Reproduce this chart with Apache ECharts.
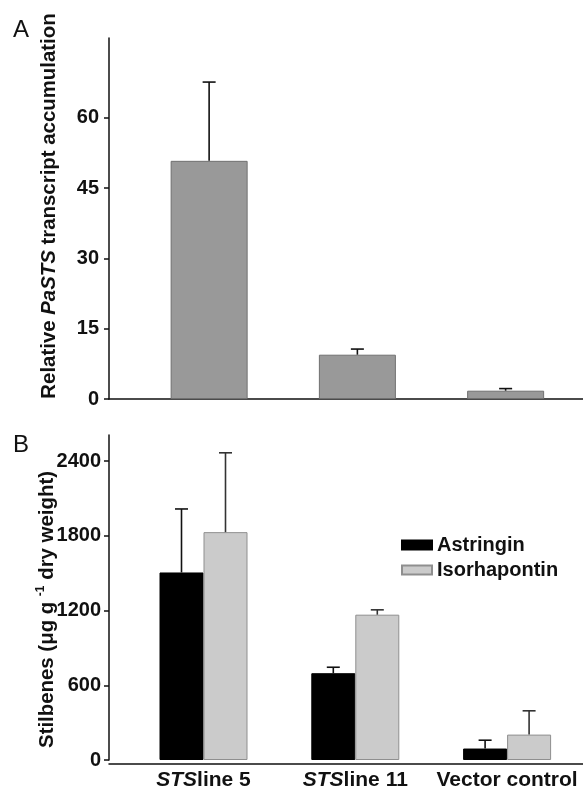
<!DOCTYPE html>
<html>
<head>
<meta charset="utf-8">
<script src="https://cdn.jsdelivr.net/npm/echarts@6/dist/echarts.min.js"></script>
<style>html,body{margin:0;padding:0;background:#fff;}#c{width:583px;height:791px;}</style>
</head>
<body>
<div id="c"></div>
<script>
// ---- data ----
const categories = ['STSline 5', 'STSline 11', 'Vector control'];
const transcript = [50.8, 9.45, 1.77];
const transcriptErr = [16.8, 1.2, 0.45];
const astringin = [1506, 697, 92];
const astringinErr = [510, 48, 67];
const isorhapontin = [1830, 1167, 204];
const isorhapontinErr = [637, 39, 191];
const topTicks = [0, 15, 30, 45, 60];
const bottomTicks = [0, 600, 1200, 1800, 2400];

const FONT = '"Liberation Sans", Arial, sans-serif';
const chart = echarts.init(document.getElementById('c'), null, {renderer: 'canvas'});

function errSeries(name, xIdx, yIdx, vals, errs, offset, color, z) {
  return {
    type: 'custom', name: name, xAxisIndex: xIdx, yAxisIndex: yIdx, z: z || 5,
    silent: true,
    data: vals.map((v, i) => [i, v, errs[i]]),
    renderItem: function (params, api) {
      const x = api.value(0), v = api.value(1), e = api.value(2);
      const base = api.coord([x, v]);
      const top = api.coord([x, v + e]);
      const cx = base[0] + offset;
      const st = {stroke: color, lineWidth: 1.6};
      return {type: 'group', children: [
        {type: 'line', shape: {x1: cx, y1: base[1], x2: cx, y2: top[1]}, style: st},
        {type: 'line', shape: {x1: cx - 6.5, y1: top[1], x2: cx + 6.5, y2: top[1]}, style: st}
      ]};
    }
  };
}

const labelStyle = {fontFamily: FONT, fontSize: 20, fontWeight: 'bold', color: '#111'};

const option = {
  animation: false,
  backgroundColor: '#fff',
  title: [
    {text: 'A', left: 8, top: 13, textStyle: {fontFamily: FONT, fontSize: 24, fontWeight: 'normal', color: '#111'}},
    {text: 'B', left: 8, top: 428, textStyle: {fontFamily: FONT, fontSize: 24, fontWeight: 'normal', color: '#111'}}
  ],
  legend: {
    orient: 'vertical', left: 401, top: 535, padding: 0,
    itemWidth: 30, itemHeight: 9, itemGap: 5,
    icon: 'rect',
    data: ['Astringin', 'Isorhapontin'],
    textStyle: {fontFamily: FONT, fontSize: 20, fontWeight: 'bold', color: '#111', lineHeight: 20}
  },
  grid: [
    {left: 135, right: 3.25, top: 38, bottom: 392},
    {left: 109, right: 0, top: 38, bottom: 392},
    {left: 127.6, right: -2.6, top: 435, bottom: 27.7},
    {left: 109, right: 0, top: 435, bottom: 27.7}
  ],
  xAxis: [
    {gridIndex: 0, type: 'category', data: categories, axisLine: {show: false}, axisTick: {show: false}, axisLabel: {show: false}},
    {gridIndex: 1, type: 'value', min: 0, max: 1, axisLine: {show: true, onZero: false, lineStyle: {color: '#111', width: 1.5}}, axisTick: {show: false}, axisLabel: {show: false}, splitLine: {show: false}},
    {gridIndex: 2, type: 'category', data: categories, axisLine: {show: false}, axisTick: {show: false},
      axisLabel: {interval: 0, hideOverlap: false, margin: 10, fontFamily: FONT, fontSize: 21, fontWeight: 'bold', color: '#111',
        formatter: function (v) {
          if (v.indexOf('STS') === 0) return '{i|STS}{b|' + v.slice(3) + '}';
          return '{b|' + v + '}';
        },
        rich: {i: {fontFamily: FONT, fontSize: 21, fontWeight: 'bold', fontStyle: 'italic', color: '#111'},
               b: {fontFamily: FONT, fontSize: 21, fontWeight: 'bold', color: '#111'}}}},
    {gridIndex: 3, type: 'value', min: 0, max: 1, axisLine: {show: true, onZero: false, lineStyle: {color: '#111', width: 1.5}}, axisTick: {show: false}, axisLabel: {show: false}, splitLine: {show: false}}
  ],
  yAxis: [
    {gridIndex: 0, type: 'value', min: 0, max: 77, offset: 26,
      axisLine: {show: true, lineStyle: {color: '#111', width: 1.5}},
      axisTick: {show: true, length: 5, customValues: topTicks, lineStyle: {color: '#111', width: 1.5}},
      axisLabel: Object.assign({margin: 10, customValues: topTicks, formatter: v => String(v)}, labelStyle),
      splitLine: {show: false},
      name: '{n|Relative }{i|PaSTS}{n| transcript accumulation}',
      nameLocation: 'middle', nameGap: 50, nameMoveOverlap: false,
      nameTextStyle: {padding: [0, 0, 0, 25], rich: {
        n: {fontFamily: FONT, fontSize: 20.4, fontWeight: 'bold', color: '#111'},
        i: {fontFamily: FONT, fontSize: 20.4, fontWeight: 'bold', fontStyle: 'italic', color: '#111'}}}
    },
    {gridIndex: 1, type: 'value', min: 0, max: 1, show: false},
    {gridIndex: 2, type: 'value', min: 0, max: 2610, offset: 18.6,
      axisLine: {show: true, lineStyle: {color: '#111', width: 1.5}},
      axisTick: {show: true, length: 5, customValues: bottomTicks, lineStyle: {color: '#111', width: 1.5}},
      axisLabel: Object.assign({margin: 8, customValues: bottomTicks, formatter: v => String(v)}, labelStyle),
      splitLine: {show: false},
      name: '{n|Stilbenes (μg g }{s|-1}{n| dry weight)}',
      nameLocation: 'middle', nameGap: 50, nameMoveOverlap: false,
      nameTextStyle: {padding: [0, 24, 0, 0], rich: {
        n: {fontFamily: FONT, fontSize: 20.4, fontWeight: 'bold', color: '#111', lineHeight: 24},
        s: {fontFamily: FONT, fontSize: 12, fontWeight: 'bold', color: '#111', verticalAlign: 'top', lineHeight: 24}}}
    },
    {gridIndex: 3, type: 'value', min: 0, max: 1, show: false}
  ],
  series: [
    {type: 'bar', name: 'PaSTS', xAxisIndex: 0, yAxisIndex: 0, data: transcript, barWidth: 77,
      itemStyle: {color: '#999999', borderColor: '#707070', borderWidth: 1}},
    errSeries('PaSTS err', 0, 0, transcript, transcriptErr, 0, '#111'),
    {type: 'bar', name: 'Astringin', xAxisIndex: 2, yAxisIndex: 2, data: astringin, barWidth: 44, barGap: '0%',
      itemStyle: {color: '#000000', borderColor: '#000000', borderWidth: 1}},
    {type: 'bar', name: 'Isorhapontin', xAxisIndex: 2, yAxisIndex: 2, data: isorhapontin, barWidth: 44, barGap: '0%',
      itemStyle: {color: '#cbcbcb', borderColor: '#8f8f8f', borderWidth: 1}},
    errSeries('Astringin err', 2, 2, astringin, astringinErr, -22, '#111'),
    errSeries('Isorhapontin err', 2, 2, isorhapontin, isorhapontinErr, 22, '#333')
  ]
};
chart.setOption(option);
</script>
</body>
</html>
